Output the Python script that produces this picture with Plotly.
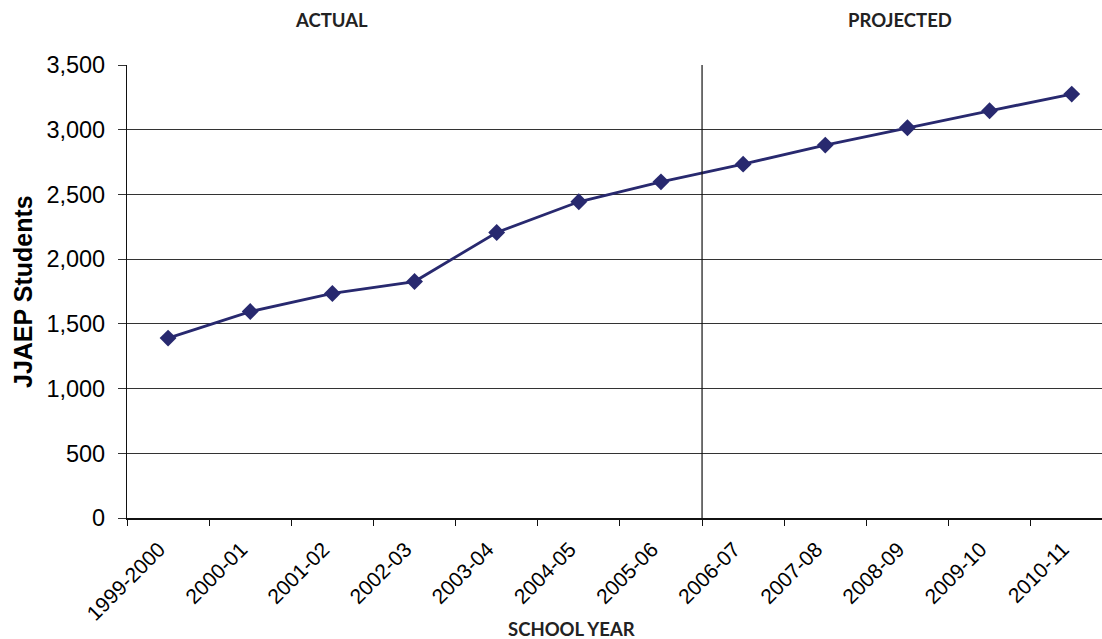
import plotly.graph_objects as go

# School years (categories) and JJAEP student counts
school_years = ["1999-2000", "2000-01", "2001-02", "2002-03", "2003-04", "2004-05",
                "2005-06", "2006-07", "2007-08", "2008-09", "2009-10", "2010-11"]
students = [1390, 1595, 1735, 1827, 2206, 2443, 2597, 2734, 2881, 3015, 3146, 3275]

y_ticks = [0, 500, 1000, 1500, 2000, 2500, 3000, 3500]
y_tick_labels = ["0", "500", "1,000", "1,500", "2,000", "2,500", "3,000", "3,500"]

W, H = 1102, 639
L, R, T, B = 127, 0, 65, 121
plot_w = W - L - R
plot_h = H - T - B

navy = "#28296f"

fig = go.Figure()
fig.add_trace(go.Scatter(
    x=school_years, y=students, mode="lines+markers",
    line=dict(color=navy, width=2.8),
    marker=dict(symbol="diamond", size=13, color=navy),
    showlegend=False, hoverinfo="x+y",
))

# divider between actual and projected years
fig.add_shape(type="line", xref="x", yref="y", x0=6.5, x1=6.5, y0=0, y1=3500,
              line=dict(color="#111", width=1.2), layer="above")


def px_x(p):
    return (p - L) / plot_w


def px_y(p):
    return (H - B - p) / plot_h


header_font = dict(family="Lato, Open Sans, sans-serif", size=18.5, color="#222")
fig.add_annotation(text="<b>ACTUAL</b>", xref="paper", yref="paper",
                   x=px_x(331), y=px_y(20), showarrow=False, font=header_font,
                   xanchor="center", yanchor="middle")
fig.add_annotation(text="<b>PROJECTED</b>", xref="paper", yref="paper",
                   x=px_x(900), y=px_y(20), showarrow=False, font=header_font,
                   xanchor="center", yanchor="middle")
fig.add_annotation(text="<b>SCHOOL YEAR</b>", xref="paper", yref="paper",
                   x=px_x(571), y=px_y(629), showarrow=False, font=header_font,
                   xanchor="center", yanchor="middle")
fig.add_annotation(text="<b>JJAEP Students</b>", xref="paper", yref="paper",
                   x=px_x(23), y=px_y(292), showarrow=False, textangle=-90,
                   font=dict(family="Arial, Liberation Sans, sans-serif", size=25, color="#000"),
                   xanchor="center", yanchor="middle")

fig.update_xaxes(
    type="category", categoryorder="array", categoryarray=school_years,
    range=[-0.5, 11.5 - (1112.8 - 1102) / 82.13],
    tickson="boundaries", ticks="outside", ticklen=6, tickcolor="#111", tickwidth=1,
    tickangle=-45, ticklabelstandoff=9, ticklabelshift=-9,
    tickfont=dict(family="Arial, Liberation Sans, sans-serif", size=21, color="#000"),
    showline=True, linecolor="#111", linewidth=1.5,
    showgrid=False, zeroline=False, fixedrange=True,
)
fig.update_yaxes(
    range=[0, 3500], tickvals=y_ticks, ticktext=y_tick_labels,
    ticks="outside", ticklen=8, tickcolor="#333", tickwidth=1,
    ticklabelstandoff=8,
    tickfont=dict(family="Arial, Liberation Sans, sans-serif", size=23.5, color="#000"),
    showline=True, linecolor="#111", linewidth=1.2,
    showgrid=True, gridcolor="#333", gridwidth=1.2,
    zeroline=False, fixedrange=True,
)

fig.update_layout(
    width=W, height=H,
    margin=dict(l=L, r=R, t=T, b=B),
    paper_bgcolor="white", plot_bgcolor="white",
)

fig.write_html("out.html")
